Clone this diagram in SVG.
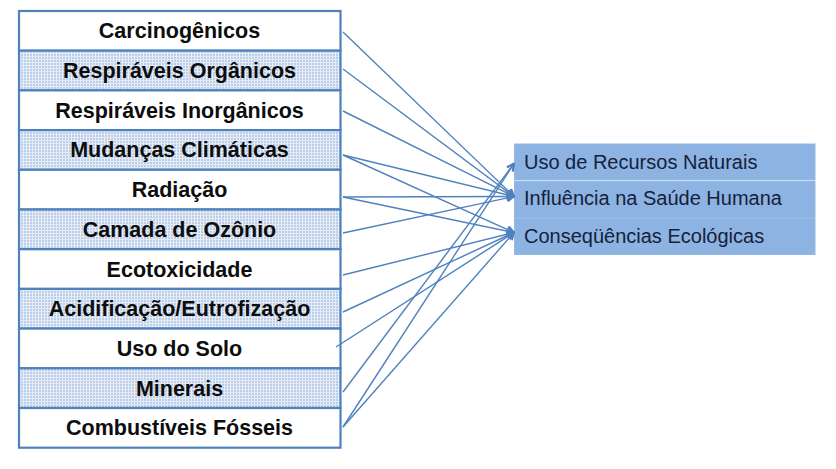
<svg xmlns="http://www.w3.org/2000/svg" width="836" height="469" viewBox="0 0 836 469">
<style>
.lt{font-family:"Liberation Sans",Arial,sans-serif;font-weight:bold;font-size:21.5px;fill:#0d0d0d;text-anchor:middle}
.rt{font-family:"Liberation Sans",Arial,sans-serif;font-size:20px;fill:#16213a}
.row{stroke:#4f81bd;stroke-width:2.2}
.plain{fill:#ffffff}
.shade{fill:url(#grid)}
.rb{fill:#8db3e2;stroke:#95b9e5;stroke-width:1}
.cn line{stroke:#4f81bd;stroke-width:1.4;fill:none;marker-end:url(#ah)}
</style>
<defs>
<pattern id="grid" width="3" height="3" patternUnits="userSpaceOnUse">
<rect width="3" height="3" fill="#bccde8"/>
<rect x="2" y="0" width="1" height="3" fill="#eaf0f9"/>
<rect x="0" y="2" width="3" height="1" fill="#e2eaf6"/>
</pattern>
<marker id="ah" viewBox="0 0 10 10" refX="9" refY="5" markerWidth="9" markerHeight="9" orient="auto" markerUnits="userSpaceOnUse">
<path d="M1,1 L9,5 L1,9" fill="none" stroke="#4f81bd" stroke-width="2"/>
</marker>
</defs>
<rect width="836" height="469" fill="#ffffff"/>

<g id="n1"><rect class="row plain" x="19" y="11" width="321.5" height="39.7"/><text class="lt" x="179.5" y="38.2">Carcinogênicos</text></g>
<g id="n2"><rect class="row shade" x="19" y="50.7" width="321.5" height="39.7"/><text class="lt" x="179.5" y="78">Respiráveis Orgânicos</text></g>
<g id="n3"><rect class="row plain" x="19" y="90.4" width="321.5" height="39.7"/><text class="lt" x="179.5" y="117.7">Respiráveis Inorgânicos</text></g>
<g id="n4"><rect class="row shade" x="19" y="130.1" width="321.5" height="39.7"/><text class="lt" x="179.5" y="157.4">Mudanças Climáticas</text></g>
<g id="n5"><rect class="row plain" x="19" y="169.8" width="321.5" height="39.7"/><text class="lt" x="179.5" y="197.1">Radiação</text></g>
<g id="n6"><rect class="row shade" x="19" y="209.5" width="321.5" height="39.7"/><text class="lt" x="179.5" y="236.8">Camada de Ozônio</text></g>
<g id="n7"><rect class="row plain" x="19" y="249.2" width="321.5" height="39.7"/><text class="lt" x="179.5" y="276.5">Ecotoxicidade</text></g>
<g id="n8"><rect class="row shade" x="19" y="288.9" width="321.5" height="39.7"/><text class="lt" x="179.5" y="316.2">Acidificação/Eutrofização</text></g>
<g id="n9"><rect class="row plain" x="19" y="328.6" width="321.5" height="39.7"/><text class="lt" x="179.5" y="355.9">Uso do Solo</text></g>
<g id="n10"><rect class="row shade" x="19" y="368.3" width="321.5" height="39.7"/><text class="lt" x="179.5" y="395.6">Minerais</text></g>
<g id="n11"><rect class="row plain" x="19" y="408" width="321.5" height="39.7"/><text class="lt" x="179.5" y="435.3">Combustíveis Fósseis</text></g>

<g id="r1"><rect class="rb" x="514.5" y="144" width="300.5" height="36"/><text class="rt" x="524" y="169">Uso de Recursos Naturais</text></g>
<g id="r2"><rect class="rb" x="514.5" y="181.5" width="300.5" height="36"/><text class="rt" x="524" y="205">Influência na Saúde Humana</text></g>
<g id="r3"><rect class="rb" x="514.5" y="218.5" width="300.5" height="36"/><text class="rt" x="524" y="243">Conseqüências Ecológicas</text></g>

<g id="connectors" class="cn">
<line x1="343" y1="32" x2="514" y2="196.5"/>
<line x1="343" y1="69" x2="514" y2="196.5"/>
<line x1="343" y1="111" x2="514" y2="196.5"/>
<line x1="343" y1="155" x2="514" y2="196.5"/>
<line x1="343" y1="155" x2="514" y2="232.5"/>
<line x1="343" y1="197" x2="514" y2="196.5"/>
<line x1="343" y1="197" x2="514" y2="232.5"/>
<line x1="343" y1="233" x2="514" y2="196.5"/>
<line x1="343" y1="275" x2="514" y2="232.5"/>
<line x1="343" y1="312" x2="514" y2="232.5"/>
<line x1="336" y1="347" x2="514" y2="232.5"/>
<line x1="343" y1="392" x2="514" y2="163.5"/>
<line x1="343" y1="427" x2="514" y2="163.5"/>
<line x1="343" y1="427" x2="514" y2="232.5"/>
</g>
</svg>
